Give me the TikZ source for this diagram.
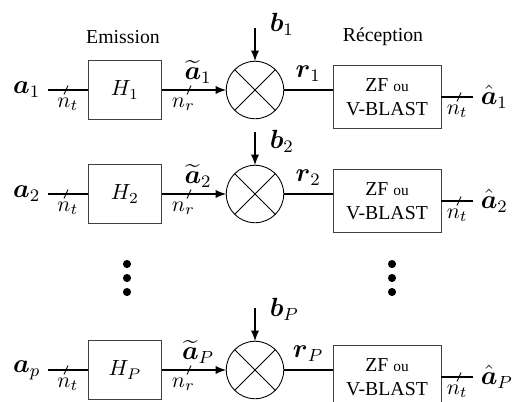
\documentclass[tikz,border=0pt]{standalone}
\usepackage[no-math]{fontspec}
\setmainfont{Liberation Serif}
\usepackage{amsmath}
\usepackage{amssymb}
\usetikzlibrary{positioning}

\newcommand{\barre}[2]{\draw (#1-2,#2+4.5) -- (#1+2,#2-4.5);}

\begin{document}
\begin{tikzpicture}[x=0.016cm, y=-0.016cm, every path/.style={>=latex},
	fil/.style={line width=0.7pt},
	lab/.style={font=\large},
	canal/.style={rectangle,draw=black!75,minimum width=1.18cm,minimum height=0.94cm},
	detect/.style={rectangle,draw=black!75,minimum width=1.73cm,minimum height=1.01cm,align=center,font=\small},
	mult/.style={circle,draw,minimum size=0.92cm,outer sep=0pt}]
	\useasboundingbox (0,0) rectangle (512,401);
	\node (Em) at (123,37) {\small Emission};
	\node (Rec) at (383,37) {\small Réception};
	\foreach \i/\y/\s/\c in {1/90/1/66,2/194/2/53,P/370/p/61}{
		\node (a\i) [lab,anchor=east] at (48,\y) {$\boldsymbol{a}_\s$};
		\node (H\i) at (125,\y) [canal] {$H_\i$};
		\node (X\i) at (255,\y) [mult] {};
		\draw (X\i.45) -- (X\i.225) (X\i.135) -- (X\i.315);
		\coordinate (B\i) at (255,\y-62);
		\node (b\i) [lab,anchor=west] at (262,\y-\c) {$\boldsymbol{b}_\i$};
		\node (D\i) at (387,\y+7) [detect] {ZF {\scriptsize ou}\\V-BLAST};
		\node (o\i) [lab,anchor=west] at (473,\y+7) {$\hat{\boldsymbol{a}}_\i$};
		\draw[fil] (a\i) to node[below]{$n_t$} (H\i);
		\draw[fil,->] (H\i) to node[pos=0.33,below]{$n_r$} node[lab,pos=0.56,above=1pt,inner sep=1.5pt]{$\widetilde{\boldsymbol{a}}_\i$} (X\i);
		\draw[fil,->] (B\i) to (X\i);
		\draw[fil] (X\i) to node[lab,above]{$\boldsymbol{r}_\i$} (X\i -| D\i.west);
		\draw[fil] (D\i) to node[below]{$n_t$} (o\i);
		\barre{66}{\y}
		\barre{189}{\y}
		\barre{459}{\y+7}
	}
	% points de suspension
	\foreach \x in {127,392}{
		\fill (\x,264) circle (0.065cm);
		\fill (\x,278) circle (0.065cm);
		\fill (\x,292) circle (0.065cm);
	}
\end{tikzpicture}
\end{document}
